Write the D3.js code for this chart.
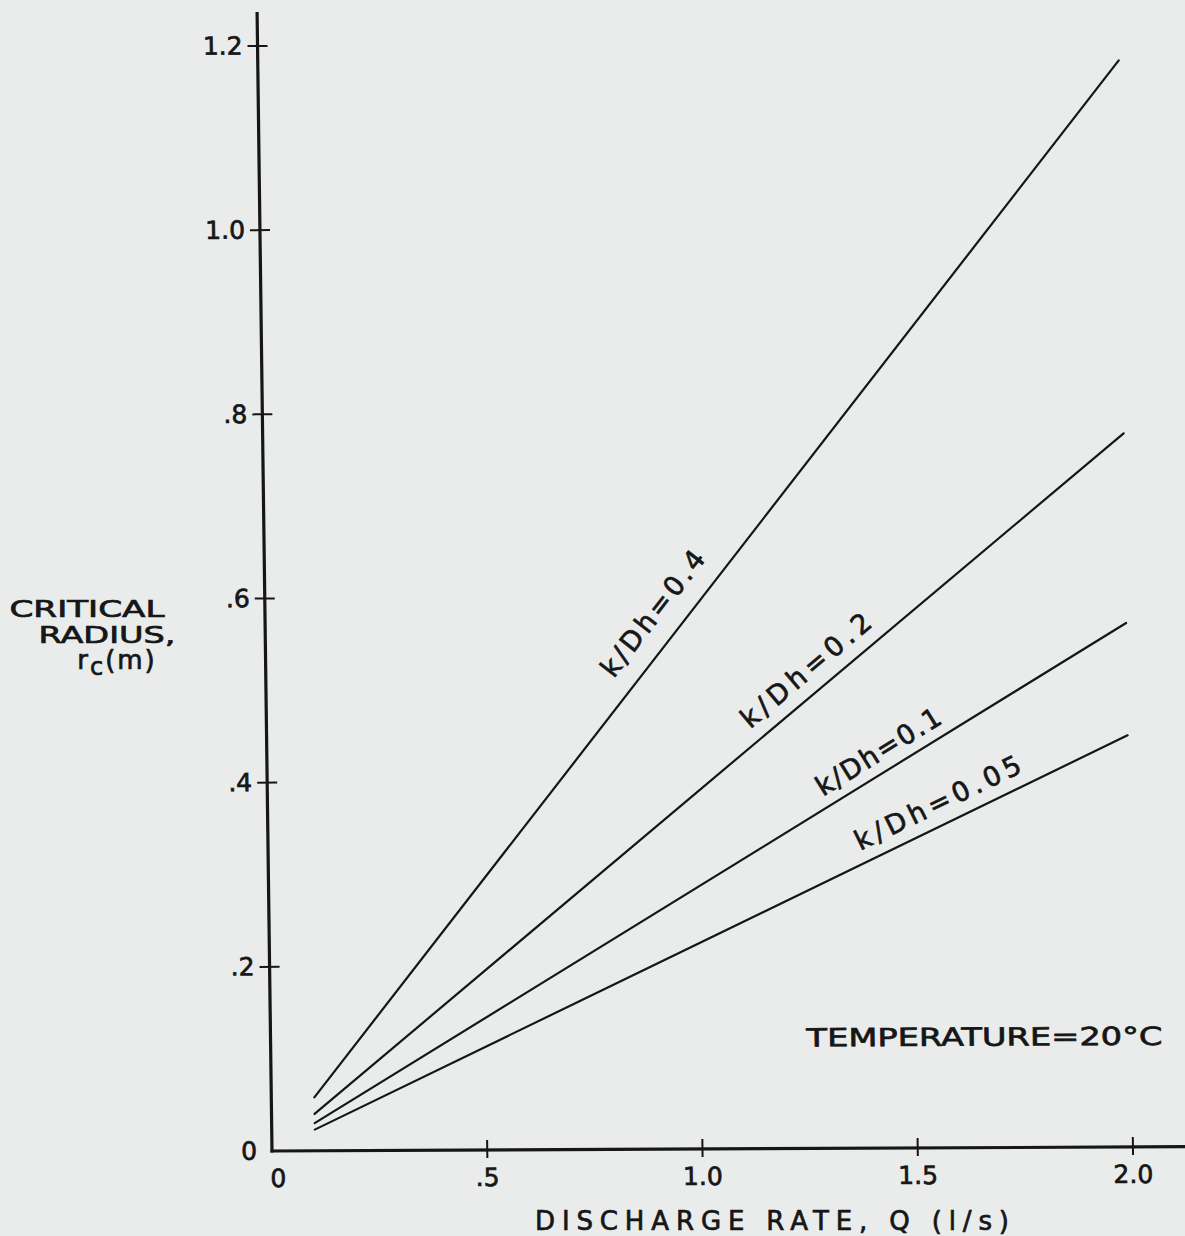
<!DOCTYPE html>
<html>
<head>
<meta charset="utf-8">
<script src="https://cdn.jsdelivr.net/npm/d3@7"></script>
<style>
  html, body { margin: 0; padding: 0; background: #e9eceb; }
  svg { display: block; }
  text { font-family: "DejaVu Sans", sans-serif; fill: #161616; stroke: #161616; stroke-width: 0.7px; }
</style>
</head>
<body>
<script>
// Critical radius vs discharge rate for several k/Dh ratios (T = 20 °C)
const discharge = [0.1, 2.0];                 // Q (l/s), start and end of each line
const ratioLabels = ["k/Dh=0.4", "k/Dh=0.2", "k/Dh=0.1", "k/Dh=0.05"];
const radius04  = [0.058, 1.180];
const radius02  = [0.040, 0.775];
const radius01  = [0.030, 0.569];
const radius005 = [0.023, 0.447];
// where each ratio label sits (Q, r at text centre)
const labelQ = [0.906, 1.259, 1.424, 1.56];
const labelR = [0.580, 0.517, 0.428, 0.372];

const xTicks = [0, 0.5, 1.0, 1.5, 2.0];
const xTickLabels = ["0", ".5", "1.0", "1.5", "2.0"];
const yTicks = [0, 0.2, 0.4, 0.6, 0.8, 1.0, 1.2];
const yTickLabels = ["0", ".2", ".4", ".6", ".8", "1.0", "1.2"];

const series = [radius04, radius02, radius01, radius005];
const labelLengths = [152, 162, 142, 182];

const W = 1185, H = 1236;
const x0 = 272, y0 = 1151;
const x = d3.scaleLinear().domain([0, 2]).range([x0, 1133]);
const y = d3.scaleLinear().domain([0, 1.2]).range([y0, 46]);

const svg = d3.select("body").append("svg").attr("width", W).attr("height", H);
svg.append("rect").attr("width", W).attr("height", H).attr("fill", "#e9eceb");

// the drawing sheet is slightly sheared
const g = svg.append("g")
  .attr("transform", `translate(${x0},${y0}) skewX(0.75) skewY(-0.27) translate(${-x0},${-y0})`);

const ink = "#161616";

// axes
g.append("line").attr("x1", x0).attr("x2", x0).attr("y1", 12).attr("y2", y0 + 1.5)
  .attr("stroke", ink).attr("stroke-width", 3.2);
g.append("line").attr("x1", x0 - 1.5).attr("x2", 1200).attr("y1", y0).attr("y2", y0)
  .attr("stroke", ink).attr("stroke-width", 3.2);

// y ticks (crossing the axis) and labels
yTicks.forEach((v, i) => {
  if (v > 0) {
    g.append("line").attr("x1", x0 - 10).attr("x2", x0 + 10)
      .attr("y1", y(v)).attr("y2", y(v)).attr("stroke", ink).attr("stroke-width", 2);
  }
  g.append("text").attr("x", x0 - 15).attr("y", y(v))
    .attr("text-anchor", "end").attr("dominant-baseline", "central")
    .attr("font-size", 25).text(yTickLabels[i]);
});

// x ticks and labels
xTicks.forEach((v, i) => {
  if (v > 0) {
    g.append("line").attr("x1", x(v)).attr("x2", x(v))
      .attr("y1", y0 - 10).attr("y2", y0 + 8).attr("stroke", ink).attr("stroke-width", 2);
  }
  g.append("text").attr("x", x(v) + (v === 0 ? 6 : 0)).attr("y", y0 + 36)
    .attr("text-anchor", "middle").attr("font-size", 25).text(xTickLabels[i]);
});

// lines
const line = d3.line().x((d, i) => x(discharge[i])).y(d => y(d));
series.forEach(s => {
  g.append("path").datum(s).attr("d", line)
    .attr("fill", "none").attr("stroke", ink).attr("stroke-width", 2.2)
    .attr("stroke-linecap", "round");
});

// ratio labels, rotated along their lines
series.forEach((s, i) => {
  const dx = x(discharge[1]) - x(discharge[0]);
  const dy = y(s[1]) - y(s[0]);
  const ang = Math.atan2(dy, dx) * 180 / Math.PI;
  const cx = x(labelQ[i]), cy = y(labelR[i]);
  g.append("text")
    .attr("transform", `translate(${cx},${cy}) rotate(${ang})`)
    .attr("text-anchor", "middle").attr("dominant-baseline", "central")
    .attr("dy", -3)
    .attr("font-size", 27).attr("textLength", labelLengths[i]).attr("lengthAdjust", "spacing")
    .text(ratioLabels[i]);
});

// temperature note
g.append("text").attr("x", 986).attr("y", 1049).attr("text-anchor", "middle")
  .attr("font-size", 25).attr("textLength", 356).attr("lengthAdjust", "spacingAndGlyphs")
  .text("TEMPERATURE=20°C");

// x-axis title
svg.append("text").attr("x", 772).attr("y", 1230).attr("text-anchor", "middle")
  .attr("font-size", 26).attr("textLength", 474).attr("lengthAdjust", "spacing")
  .text("DISCHARGE RATE, Q (l/s)");

// y-axis title, three lines
svg.append("text").attr("x", 87).attr("y", 617).attr("text-anchor", "middle")
  .attr("font-size", 23).attr("textLength", 155).attr("lengthAdjust", "spacingAndGlyphs")
  .text("CRITICAL");
svg.append("text").attr("x", 107).attr("y", 643).attr("text-anchor", "middle")
  .attr("font-size", 23).attr("textLength", 137).attr("lengthAdjust", "spacingAndGlyphs")
  .text("RADIUS,");
const rc = svg.append("text").attr("x", 117).attr("y", 669).attr("text-anchor", "middle")
  .attr("font-size", 26).attr("letter-spacing", 2);
rc.append("tspan").text("r");
rc.append("tspan").attr("dy", 6).attr("font-size", 24).text("c");
rc.append("tspan").attr("dy", -6).text("(m)");
</script>
</body>
</html>
